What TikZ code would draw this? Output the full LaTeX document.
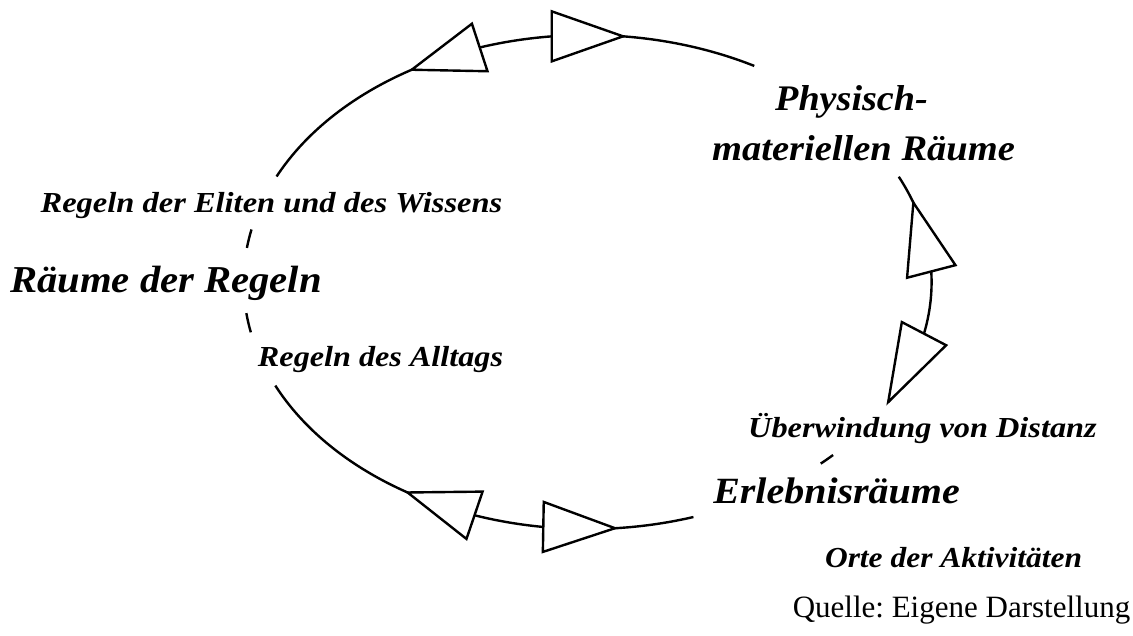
\documentclass[tikz,border=0pt]{standalone}
\usepackage{fontspec}
\usepackage{graphicx}
\setmainfont{Liberation Serif}
\newfontfamily\labfont{Liberation Serif Bold Italic}
\usetikzlibrary{calc}
\frenchspacing

% text set at a given size and horizontal stretch
\newcommand\stext[3]{\fontsize{#1}{#1}\selectfont\scalebox{#2}[1]{#3}}
% point on the ellipse of the cycle at a given parametric angle
\newcommand\ept[2]{\coordinate (#1) at ({587.6+344*cos(#2)},{-282+247*sin(#2)});}

\tikzset{
  loopline/.style={line width=2.4pt, line cap=butt},
  head/.style={line width=2.4pt, fill=white, line join=miter},
  lab/.style={inner sep=0pt, anchor=base, font=\labfont},
  src/.style={inner sep=0pt, anchor=base},
}

\begin{document}
\begin{tikzpicture}[x=1pt, y=1pt]
\useasboundingbox (0,0) rectangle (1133,-635);

% ends of the visible pieces of the cycle
\ept{a0}{154.72} \ept{a1}{61.02}
\ept{b0}{25.23}  \ept{b1}{-29.09}
\ept{c0}{-44.47} \ept{c1}{-47.32}
\ept{d0}{-72.08} \ept{d1}{-155.21}
\ept{e0}{167.72} \ept{e1}{172.06}
\ept{f0}{187.24} \ept{f1}{191.75}

% tips and base midpoints of the arrow heads
\ept{ta}{120.75} \ept{ma}{108.28}
\ept{tb}{84.08}  \ept{mb}{95.98}
\ept{tc}{18.74}  \ept{mc}{2.45}
\ept{td}{-29.09} \ept{md}{-12.07}
\ept{te}{-85.43} \ept{me}{-97.4}
\ept{tf}{-121.55} \ept{mf}{-109.19}

% labels
\node[lab] (elite) at (271.5,-212) {\stext{29}{1.12}{Regeln der Eliten und des Wissens}};
\node[lab] (regeln) at (166,-292) {\stext{38}{1.07}{Räume der Regeln}};
\node[lab] (alltag) at (380.5,-366) {\stext{29}{1.11}{Regeln des Alltags}};
\node[lab] (physA) at (851.5,-110) {\stext{36}{1.06}{Physisch-}};
\node[lab] (physB) at (863.5,-160) {\stext{36}{1.07}{materiellen Räume}};
\node[lab] (distanz) at (922.5,-437) {\stext{29}{1.115}{Überwindung von Distanz}};
\node[lab] (erleb) at (836.5,-503) {\stext{37}{1.08}{Erlebnisräume}};
\node[lab] (orte) at (953.5,-567) {\stext{29}{1.085}{Orte der Aktivitäten}};
\node[src] (quelle) at (961.5,-617) {\stext{31}{1}{Quelle: Eigene Darstellung}};

% the cycle between the spaces
\draw[loopline] (a0) arc[start angle=154.72, end angle=61.02, x radius=344, y radius=247];
\draw[loopline] (b0) arc[start angle=25.23, end angle=-29.09, x radius=344, y radius=247];
\draw[loopline] (c0) arc[start angle=-44.47, end angle=-47.32, x radius=344, y radius=247];
\draw[loopline] (d0) arc[start angle=-72.08, end angle=-155.21, x radius=344, y radius=247];
\draw[loopline] (e0) arc[start angle=167.72, end angle=172.06, x radius=344, y radius=247];
\draw[loopline] (f0) arc[start angle=187.24, end angle=191.75, x radius=344, y radius=247];

% open arrow heads in both directions on each link
\foreach \n in {a,b,c,d,e,f}{
  \draw[head] (t\n) -- ($(m\n)!25pt!90:(t\n)$) -- ($(m\n)!25pt!-90:(t\n)$) -- cycle;
}
\end{tikzpicture}
\end{document}
